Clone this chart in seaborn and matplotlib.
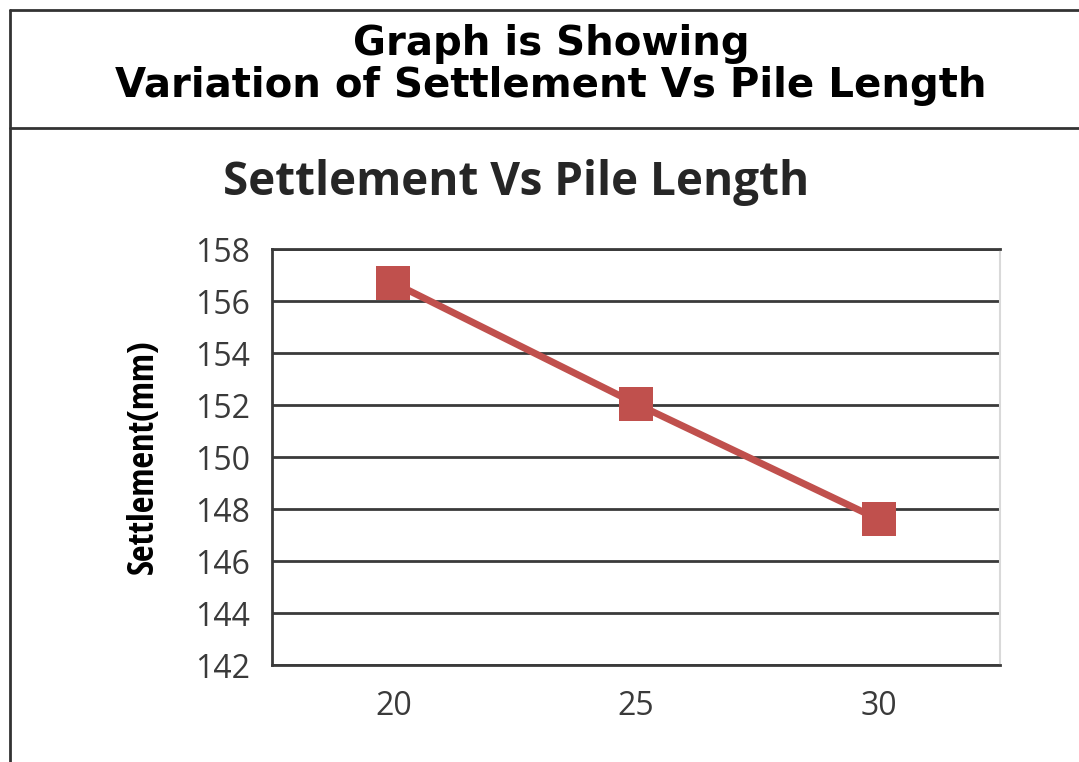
import numpy as np
import pandas as pd
import matplotlib.pyplot as plt
from matplotlib.lines import Line2D
import seaborn as sns


# Data
pile_length = [20, 25, 30]
settlement = [156.7, 152.05, 147.6]
y_ticks = [142, 144, 146, 148, 150, 152, 154, 156, 158]

df = pd.DataFrame({'Pile Length': pile_length, 'Settlement': settlement})

sns.set_theme(style='white')
plt.rcParams['font.family'] = ['Open Sans', 'DejaVu Sans']

W, H = 1079, 762
fig = plt.figure(figsize=(W / 100, H / 100), dpi=100)

# axes box in pixels: left 272, right 1000, top 249, bottom 665
ax = fig.add_axes([272 / W, 1 - 665 / H, (1000 - 272) / W, (665 - 249) / H])

sns.lineplot(x='Pile Length', y='Settlement', data=df, color='#C0504D',
             linewidth=5, marker='s', markersize=25, markeredgewidth=0,
             zorder=3, ax=ax)

ax.set_xlim(17.5, 32.5)
ax.set_ylim(142, 158)
ax.set_xticks(pile_length)
ax.set_yticks(y_ticks)
ax.yaxis.grid(True, color='#3a3a3a', linewidth=2)
ax.set_axisbelow(True)
ax.tick_params(axis='both', length=0, labelsize=23, colors='#3a3a3a')
ax.tick_params(axis='x', pad=18)
ax.tick_params(axis='y', pad=16)
for side in ['left', 'bottom', 'top']:
    ax.spines[side].set_color('#3a3a3a')
    ax.spines[side].set_linewidth(2)
ax.spines['right'].set_color('#d9d9d9')
ax.spines['right'].set_linewidth(1.5)
ax.set_xlabel('')
ax.set_ylabel('Settlement(mm)', fontsize=26, fontweight='bold',
              color='black', family=['Open Sans Condensed', 'Liberation Sans Narrow', 'Open Sans'])
ax.yaxis.set_label_coords(-0.152, 0.5)

# chart title
fig.text(516 / W, 1 - 182 / H, 'Settlement Vs Pile Length', ha='center',
         va='center', fontsize=33, fontweight='bold', color='#262626')

# header box
fig.text(551 / W, 1 - 65 / H, 'Graph is Showing\nVariation of Settlement Vs Pile Length',
         ha='center', va='center', fontsize=29, fontweight='bold',
         family='DejaVu Sans', linespacing=1.05, color='black')
line_kw = dict(color='#333333', linewidth=2, transform=fig.transFigure)
fig.add_artist(Line2D([10 / W, 1], [1 - 10 / H, 1 - 10 / H], **line_kw))
fig.add_artist(Line2D([10 / W, 1], [1 - 128 / H, 1 - 128 / H], **line_kw))
fig.add_artist(Line2D([10 / W, 10 / W], [0, 1 - 10 / H], **line_kw))

plt.savefig('out.png', dpi=100)
